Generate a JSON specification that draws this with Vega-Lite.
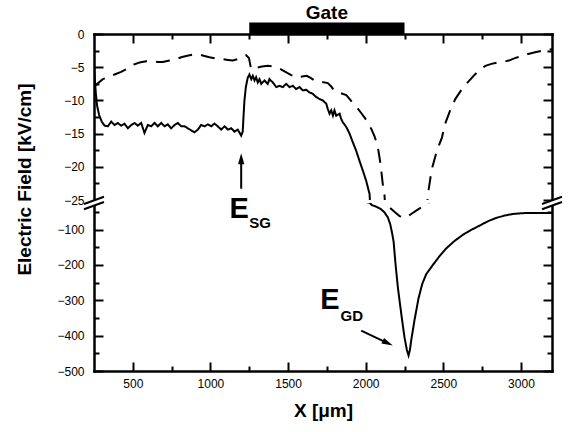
{
  "$schema": "https://vega.github.io/schema/vega-lite/v6.json",
  "background": "white",
  "padding": {"left": 15, "top": 3, "right": 5, "bottom": 5},
  "bounds": "flush",
  "spacing": 3,
  "config": {
    "view": {"stroke": null},
    "font": "Liberation Sans",
    "axis": {
      "domainColor": "black", "domainWidth": 2.5, "domainCap": "square",
      "tickColor": "black", "tickWidth": 2,
      "labelColor": "black", "labelFont": "Liberation Sans", "labelFontSize": 12,
      "labelOverlap": false, "labelFlush": false,
      "titleColor": "black", "titleFont": "Liberation Sans", "titleFontWeight": "bold",
      "grid": false
    }
  },
  "datasets": {
    "curves": [
      {"s":"solid","x":250,"y":-4.5},{"s":"solid","x":256,"y":-7.0},{"s":"solid","x":262,"y":-9.0},{"s":"solid","x":270,"y":-10.8},
      {"s":"solid","x":283,"y":-12.2},{"s":"solid","x":300,"y":-13.2},{"s":"solid","x":318,"y":-13.8},{"s":"solid","x":339,"y":-13.9},
      {"s":"solid","x":361,"y":-13.2},{"s":"solid","x":382,"y":-13.7},{"s":"solid","x":403,"y":-13.4},{"s":"solid","x":425,"y":-13.8},
      {"s":"solid","x":446,"y":-13.5},{"s":"solid","x":468,"y":-14.2},{"s":"solid","x":490,"y":-13.7},{"s":"solid","x":511,"y":-13.4},
      {"s":"solid","x":532,"y":-13.8},{"s":"solid","x":554,"y":-13.4},{"s":"solid","x":575,"y":-14.9},{"s":"solid","x":597,"y":-13.7},
      {"s":"solid","x":618,"y":-13.9},{"s":"solid","x":640,"y":-13.4},{"s":"solid","x":661,"y":-13.9},{"s":"solid","x":683,"y":-13.4},
      {"s":"solid","x":704,"y":-13.9},{"s":"solid","x":725,"y":-13.6},{"s":"solid","x":747,"y":-14.2},{"s":"solid","x":769,"y":-13.7},
      {"s":"solid","x":790,"y":-13.4},{"s":"solid","x":812,"y":-13.9},{"s":"solid","x":833,"y":-13.9},{"s":"solid","x":854,"y":-14.2},
      {"s":"solid","x":876,"y":-14.5},{"s":"solid","x":897,"y":-14.8},{"s":"solid","x":919,"y":-14.4},{"s":"solid","x":940,"y":-13.7},
      {"s":"solid","x":962,"y":-13.9},{"s":"solid","x":983,"y":-13.6},{"s":"solid","x":1005,"y":-13.9},{"s":"solid","x":1026,"y":-13.5},
      {"s":"solid","x":1047,"y":-13.9},{"s":"solid","x":1069,"y":-14.4},{"s":"solid","x":1091,"y":-13.9},{"s":"solid","x":1112,"y":-14.4},
      {"s":"solid","x":1134,"y":-14.2},{"s":"solid","x":1155,"y":-14.7},{"s":"solid","x":1176,"y":-14.4},{"s":"solid","x":1198,"y":-15.3},
      {"s":"solid","x":1208,"y":-14.7},{"s":"solid","x":1214,"y":-12.0},{"s":"solid","x":1219,"y":-10.0},{"s":"solid","x":1228,"y":-8.0},
      {"s":"solid","x":1240,"y":-6.6},{"s":"solid","x":1251,"y":-6.1},{"s":"solid","x":1263,"y":-6.8},{"s":"solid","x":1273,"y":-6.3},
      {"s":"solid","x":1284,"y":-7.0},{"s":"solid","x":1294,"y":-6.5},{"s":"solid","x":1305,"y":-7.3},{"s":"solid","x":1316,"y":-6.8},
      {"s":"solid","x":1327,"y":-7.5},{"s":"solid","x":1348,"y":-7.0},{"s":"solid","x":1369,"y":-7.5},{"s":"solid","x":1380,"y":-6.8},
      {"s":"solid","x":1402,"y":-7.3},{"s":"solid","x":1424,"y":-8.0},{"s":"solid","x":1445,"y":-7.8},{"s":"solid","x":1466,"y":-8.0},
      {"s":"solid","x":1488,"y":-7.5},{"s":"solid","x":1509,"y":-8.0},{"s":"solid","x":1531,"y":-7.8},{"s":"solid","x":1552,"y":-8.3},
      {"s":"solid","x":1574,"y":-8.0},{"s":"solid","x":1595,"y":-8.5},{"s":"solid","x":1617,"y":-8.4},{"s":"solid","x":1638,"y":-8.8},
      {"s":"solid","x":1659,"y":-9.0},{"s":"solid","x":1681,"y":-9.5},{"s":"solid","x":1703,"y":-9.8},{"s":"solid","x":1724,"y":-10.0},
      {"s":"solid","x":1746,"y":-10.5},{"s":"solid","x":1756,"y":-11.3},{"s":"solid","x":1767,"y":-12.0},{"s":"solid","x":1778,"y":-11.5},
      {"s":"solid","x":1789,"y":-12.3},{"s":"solid","x":1799,"y":-11.5},{"s":"solid","x":1810,"y":-12.3},{"s":"solid","x":1832,"y":-12.0},
      {"s":"solid","x":1842,"y":-12.8},{"s":"solid","x":1853,"y":-13.3},{"s":"solid","x":1875,"y":-14.0},{"s":"solid","x":1896,"y":-15.0},
      {"s":"solid","x":1917,"y":-16.3},{"s":"solid","x":1939,"y":-17.6},{"s":"solid","x":1960,"y":-19.1},{"s":"solid","x":1982,"y":-20.6},
      {"s":"solid","x":2003,"y":-22.1},{"s":"solid","x":2025,"y":-24.1},{"s":"solid","x":2040,"y":-31},{"s":"solid","x":2060,"y":-34},
      {"s":"solid","x":2080,"y":-38},{"s":"solid","x":2100,"y":-43},{"s":"solid","x":2120,"y":-51},{"s":"solid","x":2143,"y":-66},
      {"s":"solid","x":2158,"y":-85},{"s":"solid","x":2170,"y":-110},{"s":"solid","x":2180,"y":-135},{"s":"solid","x":2192,"y":-197},
      {"s":"solid","x":2207,"y":-263},{"s":"solid","x":2229,"y":-338},{"s":"solid","x":2250,"y":-405},{"s":"solid","x":2265,"y":-440},
      {"s":"solid","x":2276,"y":-456},{"s":"solid","x":2285,"y":-440},{"s":"solid","x":2293,"y":-414},{"s":"solid","x":2314,"y":-357},
      {"s":"solid","x":2340,"y":-295},{"s":"solid","x":2364,"y":-254},{"s":"solid","x":2390,"y":-226},{"s":"solid","x":2433,"y":-200},
      {"s":"solid","x":2476,"y":-175},{"s":"solid","x":2515,"y":-155},{"s":"solid","x":2570,"y":-133},{"s":"solid","x":2626,"y":-115},
      {"s":"solid","x":2680,"y":-101},{"s":"solid","x":2733,"y":-89},{"s":"solid","x":2790,"y":-76},{"s":"solid","x":2841,"y":-67},
      {"s":"solid","x":2900,"y":-60},{"s":"solid","x":2948,"y":-56},{"s":"solid","x":3000,"y":-54},{"s":"solid","x":3055,"y":-53},
      {"s":"solid","x":3120,"y":-53},{"s":"solid","x":3200,"y":-53},
      {"s":"dashed","x":250,"y":-8.0},{"s":"dashed","x":275,"y":-7.4},{"s":"dashed","x":307,"y":-6.8},{"s":"dashed","x":340,"y":-6.5},
      {"s":"dashed","x":382,"y":-6.1},{"s":"dashed","x":425,"y":-5.7},{"s":"dashed","x":468,"y":-5.2},{"s":"dashed","x":505,"y":-4.6},
      {"s":"dashed","x":543,"y":-4.3},{"s":"dashed","x":586,"y":-4.1},{"s":"dashed","x":629,"y":-4.1},{"s":"dashed","x":660,"y":-4.2},
      {"s":"dashed","x":693,"y":-4.2},{"s":"dashed","x":736,"y":-4.0},{"s":"dashed","x":779,"y":-3.8},{"s":"dashed","x":812,"y":-3.5},
      {"s":"dashed","x":844,"y":-3.3},{"s":"dashed","x":887,"y":-3.1},{"s":"dashed","x":930,"y":-3.1},{"s":"dashed","x":962,"y":-3.3},
      {"s":"dashed","x":994,"y":-3.5},{"s":"dashed","x":1037,"y":-3.7},{"s":"dashed","x":1080,"y":-3.8},{"s":"dashed","x":1112,"y":-3.9},
      {"s":"dashed","x":1144,"y":-4.0},{"s":"dashed","x":1187,"y":-3.7},{"s":"dashed","x":1230,"y":-3.2},{"s":"dashed","x":1248,"y":-3.6},
      {"s":"dashed","x":1262,"y":-5.3},{"s":"dashed","x":1295,"y":-5.1},{"s":"dashed","x":1332,"y":-4.9},{"s":"dashed","x":1370,"y":-4.8},
      {"s":"dashed","x":1408,"y":-4.9},{"s":"dashed","x":1445,"y":-5.2},{"s":"dashed","x":1483,"y":-5.7},{"s":"dashed","x":1520,"y":-6.2},
      {"s":"dashed","x":1560,"y":-6.6},{"s":"dashed","x":1590,"y":-6.4},{"s":"dashed","x":1620,"y":-6.3},{"s":"dashed","x":1645,"y":-6.6},
      {"s":"dashed","x":1670,"y":-7.0},{"s":"dashed","x":1713,"y":-7.2},{"s":"dashed","x":1756,"y":-7.4},{"s":"dashed","x":1778,"y":-7.9},
      {"s":"dashed","x":1799,"y":-8.6},{"s":"dashed","x":1837,"y":-8.9},{"s":"dashed","x":1875,"y":-9.2},{"s":"dashed","x":1897,"y":-9.8},
      {"s":"dashed","x":1918,"y":-10.4},{"s":"dashed","x":1945,"y":-11.1},{"s":"dashed","x":1971,"y":-11.9},{"s":"dashed","x":1993,"y":-12.6},
      {"s":"dashed","x":2014,"y":-13.3},{"s":"dashed","x":2036,"y":-14.3},{"s":"dashed","x":2057,"y":-15.4},{"s":"dashed","x":2078,"y":-17.0},
      {"s":"dashed","x":2095,"y":-19.5},{"s":"dashed","x":2110,"y":-22.6},{"s":"dashed","x":2121,"y":-24.3},{"s":"dashed","x":2135,"y":-29},
      {"s":"dashed","x":2153,"y":-37},{"s":"dashed","x":2185,"y":-50},{"s":"dashed","x":2218,"y":-62},{"s":"dashed","x":2250,"y":-67},
      {"s":"dashed","x":2270,"y":-63},{"s":"dashed","x":2293,"y":-56},{"s":"dashed","x":2330,"y":-45},{"s":"dashed","x":2368,"y":-35},
      {"s":"dashed","x":2390,"y":-27},{"s":"dashed","x":2405,"y":-23.5},{"s":"dashed","x":2418,"y":-21.5},{"s":"dashed","x":2430,"y":-20},
      {"s":"dashed","x":2450,"y":-18.3},{"s":"dashed","x":2468,"y":-17},{"s":"dashed","x":2491,"y":-15.6},{"s":"dashed","x":2512,"y":-13.5},
      {"s":"dashed","x":2544,"y":-11.5},{"s":"dashed","x":2577,"y":-9.8},{"s":"dashed","x":2620,"y":-8.3},{"s":"dashed","x":2660,"y":-7.2},
      {"s":"dashed","x":2695,"y":-6.3},{"s":"dashed","x":2733,"y":-5.4},{"s":"dashed","x":2771,"y":-4.8},{"s":"dashed","x":2810,"y":-4.5},
      {"s":"dashed","x":2847,"y":-4.3},{"s":"dashed","x":2885,"y":-4.2},{"s":"dashed","x":2922,"y":-4.0},{"s":"dashed","x":2965,"y":-3.6},
      {"s":"dashed","x":3009,"y":-3.3},{"s":"dashed","x":3047,"y":-3.0},{"s":"dashed","x":3084,"y":-2.8},{"s":"dashed","x":3140,"y":-2.5},
      {"s":"dashed","x":3200,"y":-2.3}
    ],
    "gate": [{"start": 1250, "end": 2250, "label": "Gate"}],
    "breaks": [{"edge": 250}, {"edge": 3200}],
    "one": [{"n": 1}]
  },
  "vconcat": [
    {
      "width": 458,
      "height": 166,
      "resolve": {"axis": {"x": "independent", "y": "independent"}},
      "layer": [
        {
          "data": {"name": "curves"},
          "mark": {"type": "line", "clip": true, "strokeWidth": 2, "color": "black"},
          "encoding": {
            "x": {"field": "x", "type": "quantitative",
                  "scale": {"domain": [250, 3200], "nice": false, "zero": false},
                  "axis": {"orient": "top", "labels": false, "title": null,
                           "values": [500,750,1000,1250,1500,1750,2000,2250,2500,2750,3000],
                           "tickSize": {"condition": {"test": "datum.value % 500 === 0", "value": -9}, "value": -5}}},
            "y": {"field": "y", "type": "quantitative",
                  "scale": {"domain": [-25, 0], "nice": false, "zero": false},
                  "axis": {"orient": "left",
                           "values": [0,-2.5,-5,-7.5,-10,-12.5,-15,-17.5,-20,-22.5,-25],
                           "labelExpr": "datum.value % 5 === 0 ? datum.label : ''",
                           "tickSize": {"condition": {"test": "datum.value % 5 === 0", "value": -9}, "value": -5},
                           "labelPadding": 19,
                           "title": "Electric Field [kV/cm]", "titleFontSize": 19,
                           "titleX": -70, "titleY": 145, "titleBaseline": "middle", "titleAlign": "center", "titleAngle": 270}},
            "strokeDash": {"field": "s", "type": "nominal",
                           "scale": {"domain": ["solid", "dashed"], "range": [[1, 0], [14, 9]]},
                           "legend": null}
          }
        },
        {
          "data": {"name": "gate"},
          "mark": {"type": "rect", "color": "black"},
          "encoding": {
            "x": {"field": "start", "type": "quantitative", "axis": null},
            "x2": {"field": "end"},
            "y": {"datum": 0, "type": "quantitative",
                  "axis": {"orient": "right", "labels": false, "title": null,
                           "values": [0,-2.5,-5,-7.5,-10,-12.5,-15,-17.5,-20,-22.5,-25],
                           "tickSize": {"condition": {"test": "datum.value % 5 === 0", "value": -9}, "value": -5}}},
            "y2": {"datum": 1.75}
          }
        },
        {
          "data": {"name": "gate"},
          "mark": {"type": "text", "fontSize": 19, "fontWeight": "bold", "align": "center", "baseline": "alphabetic", "color": "black"},
          "encoding": {
            "x": {"datum": 1750, "type": "quantitative", "axis": null},
            "y": {"datum": 2.3, "type": "quantitative", "axis": null},
            "text": {"field": "label"}
          }
        },
        {
          "data": {"name": "one"},
          "mark": {"type": "rule", "color": "black", "strokeWidth": 2},
          "encoding": {
            "x": {"datum": 1198, "type": "quantitative", "axis": null},
            "y": {"datum": -23.3, "type": "quantitative", "axis": null},
            "y2": {"datum": -19.3}
          }
        },
        {
          "data": {"name": "one"},
          "mark": {"type": "point", "shape": "M0,-1L0.45,0.6L-0.45,0.6Z", "size": 196, "filled": true, "color": "black", "opacity": 1},
          "encoding": {
            "x": {"datum": 1198, "type": "quantitative", "axis": null},
            "y": {"datum": -19.0, "type": "quantitative", "axis": null}
          }
        }
      ]
    },
    {
      "width": 458,
      "height": 168,
      "resolve": {"axis": {"x": "independent", "y": "independent"}},
      "layer": [
        {
          "data": {"name": "curves"},
          "mark": {"type": "line", "clip": true, "strokeWidth": 2, "color": "black"},
          "encoding": {
            "x": {"field": "x", "type": "quantitative",
                  "scale": {"domain": [250, 3200], "nice": false, "zero": false},
                  "axis": {"orient": "bottom",
                           "values": [500,750,1000,1250,1500,1750,2000,2250,2500,2750,3000],
                           "labelExpr": "datum.value % 500 === 0 ? datum.label : ''",
                           "format": "d",
                           "tickSize": {"condition": {"test": "datum.value % 500 === 0", "value": -9}, "value": -5},
                           "labelPadding": 16,
                           "title": "X [μm]", "titleFontSize": 19, "titlePadding": 8}},
            "y": {"field": "y", "type": "quantitative",
                  "scale": {"domain": [-500, -25], "nice": false, "zero": false},
                  "axis": {"orient": "left",
                           "values": [-50,-100,-150,-200,-250,-300,-350,-400,-450,-500],
                           "labelExpr": "datum.value % 100 === 0 ? datum.label : ''",
                           "tickSize": {"condition": {"test": "datum.value % 100 === 0", "value": -9}, "value": -5},
                           "labelPadding": 19, "title": null}},
            "strokeDash": {"field": "s", "type": "nominal",
                           "scale": {"domain": ["solid", "dashed"], "range": [[1, 0], [14, 9]]},
                           "legend": null}
          }
        },
        {
          "data": {"name": "breaks"},
          "mark": {"type": "point", "shape": "M-1,0.1L1,-0.63L1,-0.1L-1,0.63Z", "size": 400, "filled": true, "color": "white", "opacity": 1, "strokeWidth": 0},
          "encoding": {
            "x": {"field": "edge", "type": "quantitative", "axis": null},
            "y": {"datum": -25, "type": "quantitative",
                  "axis": {"orient": "right", "labels": false, "title": null,
                           "values": [-50,-100,-150,-200,-250,-300,-350,-400,-450,-500],
                           "tickSize": {"condition": {"test": "datum.value % 100 === 0", "value": -9}, "value": -5}}}
          }
        },
        {
          "data": {"name": "breaks"},
          "mark": {"type": "point", "shape": "M-1,0.1L1,-0.63M-1,0.63L1,-0.1", "size": 400, "filled": false, "color": "black", "opacity": 1, "strokeWidth": 2},
          "encoding": {
            "x": {"field": "edge", "type": "quantitative", "axis": null},
            "y": {"datum": -25, "type": "quantitative", "axis": null}
          }
        },
        {
          "data": {"name": "one"},
          "mark": {"type": "text", "text": "E", "fontSize": 29, "fontWeight": "bold", "align": "center", "baseline": "alphabetic", "color": "black"},
          "encoding": {
            "x": {"datum": 1185, "type": "quantitative", "axis": null},
            "y": {"datum": -68, "type": "quantitative", "axis": null}
          }
        },
        {
          "data": {"name": "one"},
          "mark": {"type": "text", "text": "SG", "fontSize": 15, "fontWeight": "bold", "align": "left", "baseline": "alphabetic", "color": "black"},
          "encoding": {
            "x": {"datum": 1250, "type": "quantitative", "axis": null},
            "y": {"datum": -97, "type": "quantitative", "axis": null}
          }
        },
        {
          "data": {"name": "one"},
          "mark": {"type": "text", "text": "E", "fontSize": 29, "fontWeight": "bold", "align": "center", "baseline": "alphabetic", "color": "black"},
          "encoding": {
            "x": {"datum": 1770, "type": "quantitative", "axis": null},
            "y": {"datum": -326, "type": "quantitative", "axis": null}
          }
        },
        {
          "data": {"name": "one"},
          "mark": {"type": "text", "text": "GD", "fontSize": 15, "fontWeight": "bold", "align": "left", "baseline": "alphabetic", "color": "black"},
          "encoding": {
            "x": {"datum": 1838, "type": "quantitative", "axis": null},
            "y": {"datum": -360, "type": "quantitative", "axis": null}
          }
        },
        {
          "data": {"name": "one"},
          "mark": {"type": "rule", "color": "black", "strokeWidth": 2},
          "encoding": {
            "x": {"datum": 1971, "type": "quantitative", "axis": null},
            "y": {"datum": -385.7, "type": "quantitative", "axis": null},
            "x2": {"datum": 2134},
            "y2": {"datum": -419.6}
          }
        },
        {
          "data": {"name": "one"},
          "mark": {"type": "point", "shape": "M0,-1L0.45,0.6L-0.45,0.6Z", "size": 196, "filled": true, "color": "black", "opacity": 1, "angle": 115.4},
          "encoding": {
            "x": {"datum": 2134, "type": "quantitative", "axis": null},
            "y": {"datum": -419.6, "type": "quantitative", "axis": null}
          }
        }
      ]
    }
  ]
}
